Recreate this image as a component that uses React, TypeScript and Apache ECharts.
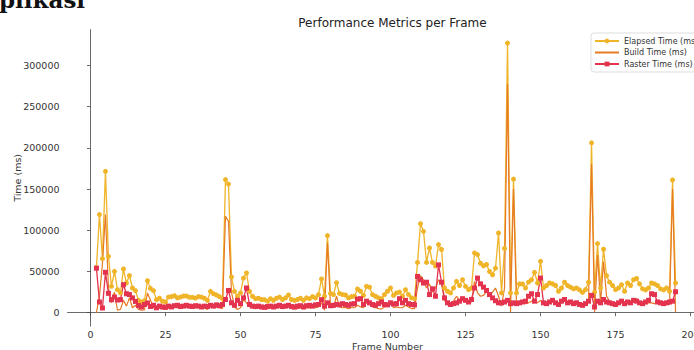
import { useEffect, useRef } from "react";
import * as echarts from "echarts";

const FIRST_FRAME = 2;

const elapsedTime = [
  55000, 119000, 65600, 171500, 68400, 32000, 50200, 28000, 24000, 53000,
  36000, 45000, 30000, 26700, 15000, 13000, 14500, 38800, 29500, 26700,
  15800, 17500, 14000, 13000, 19000, 19500, 20600, 18000, 19000, 20300,
  20300, 18700, 18700, 17800, 19500, 19000, 17500, 15000, 25900, 23000,
  21500, 19500, 17000, 161500, 156000, 43300, 25900, 20000, 24000, 42000,
  48200, 25900, 20000, 17000, 17500, 16000, 15800, 14000, 17000, 15000,
  17500, 19000, 16000, 18000, 21500, 16000, 15000, 16000, 17500, 15000,
  18000, 17000, 19500, 18000, 22000, 40900, 20000, 93500, 23400, 22000,
  36400, 23400, 22000, 21500, 18000, 19500, 20000, 28800, 26000, 21000,
  32000, 31000, 22000, 20000, 18000, 17000, 22000, 26000, 30000, 21000,
  24000, 25000, 20000, 27900, 22000, 18000, 17000, 61000, 108000, 98700,
  61000, 78500, 61000, 56700, 82600, 76700, 30000, 26000, 24000, 30000,
  38000, 33000, 40000, 32000, 28000, 30000, 72500, 70500, 60000, 57000,
  58500, 50000, 46000, 54000, 96700, 24000, 78000, 327000, 24000, 162000,
  24000, 34800, 34800, 30000, 37200, 40000, 48900, 36000, 62300, 30000,
  33000, 36000, 35000, 33000, 26000, 30000, 37000, 33000, 31000, 29000,
  30000, 27700, 24600, 28000, 37000, 206000, 25000, 83800, 30000, 77000,
  45000, 37000, 33000, 28000, 30000, 34000, 26000, 36000, 33000, 40000,
  41600, 35000, 29000, 27700, 30000, 36000, 35000, 33000, 29000, 27700,
  30000, 26000, 161000, 36000,
];

const buildTime = [
  0, 20000, 60000, 119000, 30000, 12000, 25000, 3000, 4000, 15000,
  8000, 18000, 6000, 9000, 4000, 3000, 3500, 24000, 15000, 6000,
  5000, 6000, 4500, 4000, 6000, 5500, 7000, 6000, 6500, 7000,
  6500, 6000, 5500, 6000, 7000, 5000, 6000, 4000, 9000, 6000,
  7000, 6000, 5000, 117000, 111000, 25000, 7000, 4000, 6000, 16000,
  12000, 7000, 6000, 5000, 6000, 5500, 5000, 4500, 6000, 5000,
  6000, 6500, 5000, 6000, 8000, 5000, 4500, 5000, 6000, 4500,
  6000, 5500, 7000, 6000, 7000, 12000, 3000, 85000, 8000, 6000,
  20000, 7000, 6000, 6500, 5000, 6000, 6000, 9000, 7000, 6000,
  14000, 12000, 7000, 6000, 5000, 4500, 7000, 9000, 14000, 6000,
  7000, 6000, 6000, 9000, 7000, 5000, 5000, 30000, 45000, 40000,
  30000, 35000, 25000, 30000, 40000, 35000, 15000, 10000, 9000, 14000,
  20000, 15000, 18000, 14000, 12000, 13000, 38000, 24000, 20000, 21000,
  26000, 20000, 25000, 30000, 20000, 8000, 30000, 277000, 500, 150000,
  9000, 13000, 12000, 11000, 12000, 14000, 16000, 12000, 15000, 10000,
  12000, 14000, 13000, 12000, 9000, 12000, 15000, 13000, 12000, 10000,
  11000, 9000, 8000, 10000, 15000, 180000, 500, 70000, 12000, 62000,
  20000, 14000, 12000, 9000, 11000, 14000, 10000, 13000, 12000, 16000,
  17000, 13000, 10000, 11000, 12000, 12000, 11000, 12000, 10000, 9000,
  11000, 10000, 150000, 1000,
];

const rasterTime = [
  54000, 13000, 5700, 49000, 23500, 15800, 19000, 15500, 15800, 34000,
  23000, 22000, 18000, 13700, 8800, 7000, 10000, 11800, 7500, 9000,
  6000, 8000, 7000, 6500, 8000, 7000, 8500, 9000, 7500, 8000,
  9000, 8000, 7500, 8500, 8000, 7000, 8000, 7500, 9000, 8000,
  9500, 8500, 10000, 16000, 27000, 12000, 9000, 15000, 11000, 18000,
  30000, 10000, 8000, 7500, 8000, 7000, 6500, 7500, 8000, 7000,
  8000, 9000, 7500, 8000, 9000, 7500, 7000, 8000, 8500, 7000,
  8500, 9000, 8000, 9500, 10000, 15800, 8000, 12000, 8500, 9000,
  10000, 9500, 11000, 10000, 9000, 10500, 11000, 16500, 17000, 10000,
  14000, 12000, 10000, 9000, 11000, 13000, 10000, 9500, 12000, 10500,
  11000, 17000, 12000, 15000, 11000, 10000, 9500, 44000, 40000, 36000,
  37000, 22000, 29000, 20000, 58000, 37000, 18000, 12000, 10000, 11000,
  12000, 14000, 17000, 15000, 13000, 16000, 30000, 42000, 35000, 31000,
  27000, 22000, 18000, 14500, 12000, 12000, 13000, 15000, 11000, 12000,
  11000, 12000, 13000, 14000, 20000, 23000, 14000, 22000, 42000, 12000,
  11000, 13000, 15000, 12000, 10000, 14000, 16000, 12000, 13000, 11000,
  12000, 10000, 9000, 11000, 14000, 21000, 7000, 14000, 12000, 16000,
  13000, 12000, 11000, 10000, 12000, 14000, 11000, 13000, 12000, 15000,
  14000, 12000, 11000, 13000, 15000, 23000, 22000, 13000, 12000, 11000,
  12000, 13000, 14000, 25400,
];

const xTicks = [0, 25, 50, 75, 100, 125, 150, 175, 200];
const yTicks = [0, 50000, 100000, 150000, 200000, 250000, 300000];

const FONT = "DejaVu Sans";
const C_ELAPSED = "#f0b429";
const C_BUILD = "#e67a25";
const C_RASTER = "#e3334f";

export default function App() {
  const ref = useRef<HTMLDivElement>(null);
  useEffect(() => {
    const chart = echarts.init(ref.current!, null, { renderer: "svg" });
    const pairs = (arr: number[]) => arr.map((v, i) => [FIRST_FRAME + i, v]);
    chart.setOption({
      animation: false,
      textStyle: { fontFamily: FONT },
      title: {
        text: "Performance Metrics per Frame",
        left: 387.5,
        textAlign: "center",
        top: 12,
        textStyle: { fontSize: 12, fontWeight: "normal", color: "#222", fontFamily: FONT },
      },
      graphic: [
        {
          type: "text",
          left: -1,
          top: -12,
          style: {
            text: "plikasi",
            font: "bold 23px 'DejaVu Serif'",
            fill: "#111",
          },
        },
      ],
      legend: {
        orient: "vertical",
        left: 591,
        top: 33,
        itemWidth: 24,
        itemHeight: 6,
        itemGap: 3.5,
        padding: [4, 5, 4, 3],
        borderColor: "#d4d4d4",
        borderWidth: 0.8,
        borderRadius: 3,
        backgroundColor: "#fff",
        textStyle: { fontSize: 8, color: "#333", fontFamily: FONT },
        data: [
          "Elapsed Time (ms)",
          { name: "Build Time (ms)", itemStyle: { opacity: 0 } },
          "Raster Time (ms)",
        ],
      },
      grid: {
        left: 67.5,
        top: 29.6,
        width: 640,
        height: 296.6,
        containLabel: false,
        outerBoundsMode: "none",
      },
      xAxis: {
        type: "value",
        min: -7.65,
        max: 205.65,
        name: "Frame Number",
        nameLocation: "middle",
        nameGap: 15,
        nameMoveOverlap: false,
        nameTextStyle: { fontSize: 9.5, color: "#333", fontFamily: FONT },
        axisLine: { show: true, lineStyle: { color: "#444", width: 0.8 } },
        axisTick: { show: true, length: 3.5, customValues: xTicks, lineStyle: { color: "#444", width: 0.8 } },
        axisLabel: {
          customValues: xTicks,
          fontSize: 9.5,
          color: "#333",
          margin: 3,
          formatter: (v: number) => String(v),
        },
        splitLine: { show: false },
      },
      yAxis: {
        type: "value",
        min: -16350,
        max: 343350,
        name: "Time (ms)",
        nameLocation: "middle",
        nameGap: 45,
        nameMoveOverlap: false,
        nameTextStyle: { fontSize: 9.5, color: "#333", fontFamily: FONT },
        axisLine: { show: true, lineStyle: { color: "#444", width: 0.8 } },
        axisTick: { show: true, length: 3.5, customValues: yTicks, lineStyle: { color: "#444", width: 0.8 } },
        axisLabel: {
          customValues: yTicks,
          fontSize: 9.5,
          color: "#333",
          margin: 8,
          formatter: (v: number) => String(v),
        },
        splitLine: { show: false },
      },
      series: [
        {
          name: "Elapsed Time (ms)",
          type: "line",
          data: pairs(elapsedTime),
          symbol: "circle",
          symbolSize: 5,
          showAllSymbol: true,
          silent: true,
          lineStyle: { color: C_ELAPSED, width: 1.3 },
          itemStyle: { color: C_ELAPSED },
        },
        {
          name: "Build Time (ms)",
          type: "line",
          data: pairs(buildTime),
          symbol: "none",
          silent: true,
          lineStyle: { color: C_BUILD, width: 1.2 },
          itemStyle: { color: C_BUILD },
        },
        {
          name: "Raster Time (ms)",
          type: "line",
          data: pairs(rasterTime),
          symbol: "rect",
          symbolSize: 5,
          showAllSymbol: true,
          silent: true,
          lineStyle: { color: C_RASTER, width: 1.3 },
          itemStyle: { color: C_RASTER },
        },
      ],
    });
    return () => chart.dispose();
  }, []);
  return (
    <div
      ref={ref}
      style={{ position: "fixed", left: 0, top: 0, width: 694, height: 350, background: "#fff" }}
    />
  );
}
